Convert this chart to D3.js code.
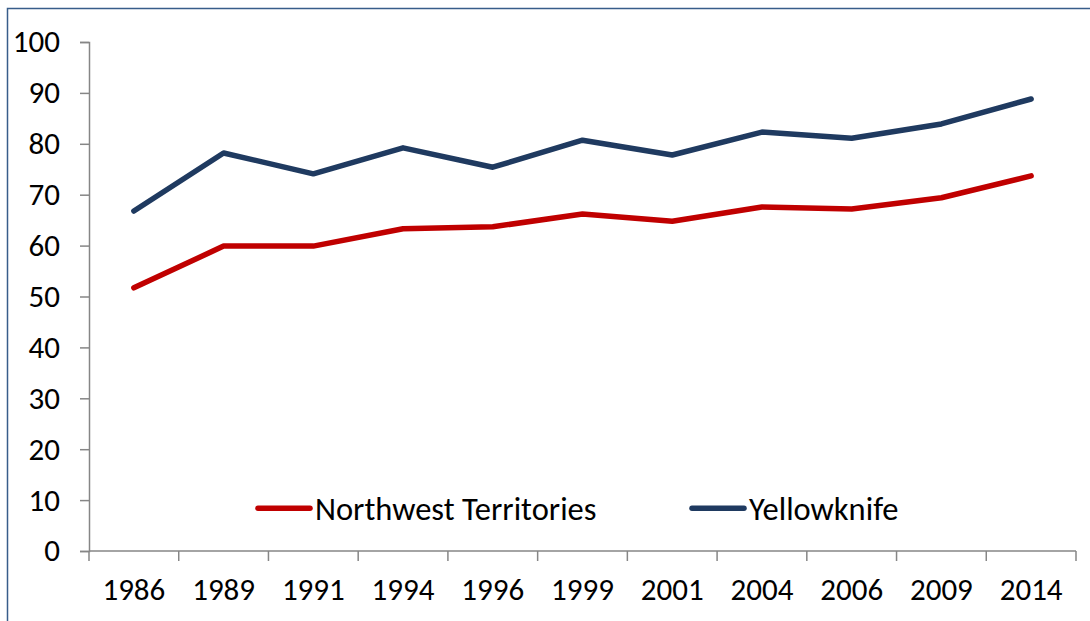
<!DOCTYPE html>
<html>
  <head>
    <script src="https://cdn.jsdelivr.net/npm/d3@7"></script>
    <style>
      body { margin: 0; background: #fff; }
      text { font-family: Carlito, Calibri, 'Liberation Sans', Arial, sans-serif; }
    </style>
  </head>
  <body>
    <svg width="1090" height="621"></svg>
    <script>
      const years = ['1986', '1989', '1991', '1994', '1996', '1999', '2001', '2004', '2006', '2009', '2014'];
      const nwt = [51.7, 59.9, 59.9, 63.3, 63.7, 66.2, 64.8, 67.6, 67.2, 69.4, 73.7];
      const yellowknife = [66.8, 78.2, 74.1, 79.2, 75.4, 80.7, 77.8, 82.3, 81.1, 83.9, 88.8];
      const seriesNames = ['Northwest Territories', 'Yellowknife'];
      const seriesColors = ['#c00000', '#1f3a60'];
      const yTicks = [0, 10, 20, 30, 40, 50, 60, 70, 80, 90, 100];

      const svg = d3.select('svg');
      const margin = {top: 42, left: 89, right: 14, bottom: 70};
      const width = 1090, height = 621;
      const fontSize = '31px';

      // outer frame
      svg.append('rect')
        .attr('x', 7.5).attr('y', 8.5)
        .attr('width', 1200).attr('height', 800)
        .attr('fill', 'none')
        .attr('stroke', '#385d8a')
        .attr('stroke-width', 1.5);

      const x = d3.scaleBand().domain(years).range([margin.left, width - margin.right]);
      const y = d3.scaleLinear().domain([0, 100]).range([height - margin.bottom, margin.top]);

      const g = svg.append('g');

      // y axis
      const yAxis = g.append('g')
        .attr('transform', `translate(${margin.left},0)`)
        .call(d3.axisLeft(y).tickValues(yTicks).tickSize(9).tickPadding(20));
      // x axis
      const xAxis = g.append('g')
        .attr('transform', `translate(0,${y(0)})`)
        .call(d3.axisBottom(x).tickSize(0).tickPadding(27));
      xAxis.selectAll('.tick line').remove();
      xAxis.selectAll('.bnd')
        .data(years.concat(['end']))
        .enter().append('line')
        .attr('x1', (d, i) => i < years.length ? x(d) : x.range()[1])
        .attr('x2', (d, i) => i < years.length ? x(d) : x.range()[1])
        .attr('y1', 0).attr('y2', 10)
        .attr('stroke', '#868686').attr('stroke-width', 1.5);

      g.selectAll('.domain').attr('stroke', '#868686').attr('stroke-width', 1.5);
      yAxis.selectAll('.tick line').attr('stroke', '#868686').attr('stroke-width', 1.5);
      g.selectAll('.tick text')
        .attr('fill', '#000')
        .style('font-size', fontSize)
        .style('font-family', "Carlito, Calibri, 'Liberation Sans', Arial, sans-serif");
      xAxis.select('.domain').attr('d', `M${margin.left},0H${width - margin.right}`);

      // lines
      const line = d3.line()
        .x((d, i) => x(years[i]) + x.bandwidth() / 2)
        .y(d => y(d));
      [nwt, yellowknife].forEach((s, k) => {
        g.append('path')
          .attr('d', line(s))
          .attr('fill', 'none')
          .attr('stroke', seriesColors[k])
          .attr('stroke-width', 5.5)
          .attr('stroke-linecap', 'round')
          .attr('stroke-linejoin', 'round');
      });

      // legend
      const legendX = [258, 692];
      const legendY = y(8.4);
      seriesNames.forEach((name, k) => {
        const lg = g.append('g').attr('transform', `translate(${legendX[k]},${legendY})`);
        lg.append('line')
          .attr('x1', 0).attr('x2', 52)
          .attr('stroke', seriesColors[k])
          .attr('stroke-width', 5.5)
          .attr('stroke-linecap', 'round');
        lg.append('text')
          .attr('x', 57).attr('dy', '0.35em')
          .style('font-size', '32.5px')
          .attr('fill', '#000')
          .text(name);
      });
    </script>
  </body>
</html>
